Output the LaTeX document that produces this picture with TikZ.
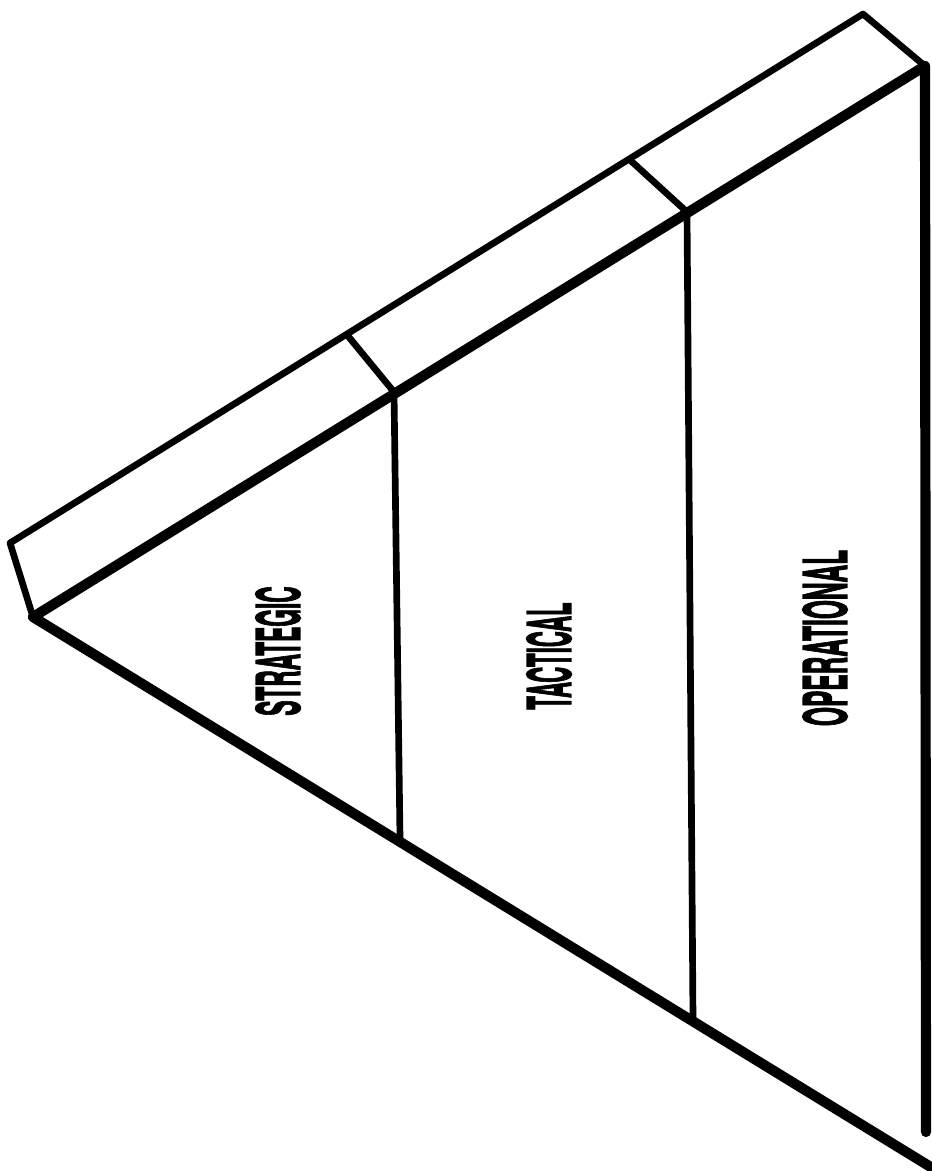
\documentclass[tikz,border=0pt]{standalone}
\usepackage{fontspec}
\usepackage{graphicx}
\usetikzlibrary{positioning}
\newfontfamily\levelfont[BoldFeatures={FakeBold=2.5}]{TeX Gyre Heros}

\begin{document}
\begin{tikzpicture}[
  x=0.02cm, y=-0.02cm,
  thinedge/.style={line width=3.8pt, line join=round, line cap=round},
  thickedge/.style={line width=5.8pt, line join=round, line cap=round},
  level/.style={rotate=90, font=\levelfont\bfseries\fontsize{34}{34}\selectfont, inner sep=0pt}
]

\path[use as bounding box] (0,0) rectangle (932,1171);

% Corners of the pyramid and its top band.
\coordinate (apex)   at (33,617);
\coordinate (backL)  at (10,543);
\coordinate (backR)  at (863,14);
\coordinate (frontR) at (925,66);
\coordinate (baseR)  at (934,1169);
\coordinate (sideB)  at (926,1132);

% Divider points on the band and on the base.
\coordinate (bandA)  at (348,336);
\coordinate (topA)   at (394,392);
\coordinate (botA)   at (400,838);
\coordinate (bandB)  at (630,160);
\coordinate (topB)   at (687,212);
\coordinate (botB)   at (693,1018);

% Top band.
\draw[thinedge] (apex) -- (backL) -- (backR) -- (frontR);
\draw[thinedge] (bandA) -- (topA);
\draw[thinedge] (bandB) -- (topB);

% Front edges.
\draw[thickedge] (apex) -- (frontR) -- (sideB);
\draw[thickedge] (apex) -- (baseR);

% Level dividers.
\draw[thinedge] (topA) -- (botA);
\draw[thinedge] (topB) -- (botB);

% Level labels.
\node[level] (strategic)   at (278,651) {\scalebox{0.38}[1]{STRATEGIC}};
\node[level] (tactical)    at (549,656) {\scalebox{0.37}[1]{TACTICAL}};
\node[level] (operational) at (825,638) {\scalebox{0.41}[1]{OPERATIONAL}};

\end{tikzpicture}
\end{document}
